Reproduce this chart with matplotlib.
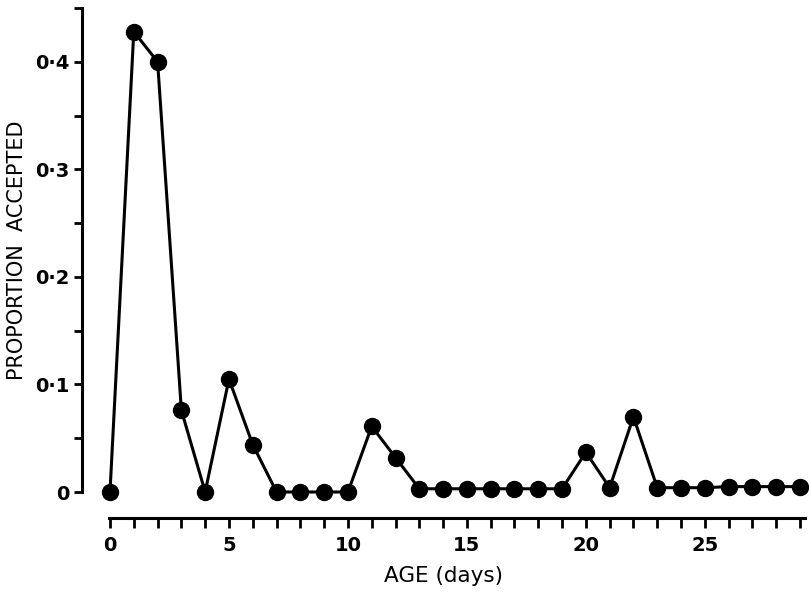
import numpy as np
import matplotlib.pyplot as plt
from matplotlib.ticker import FixedLocator

# values
age_days = list(range(0, 30))
proportion = [0.0, 0.428, 0.40, 0.076, 0.0, 0.105, 0.044, 0.0, 0.0, 0.0,
              0.0, 0.061, 0.032, 0.003, 0.003, 0.003, 0.003, 0.003, 0.003, 0.003,
              0.037, 0.004, 0.070, 0.004, 0.004, 0.004, 0.005, 0.005, 0.005, 0.005]
y_ticks = [0.0, 0.1, 0.2, 0.3, 0.4]
y_minor = [0.05, 0.15, 0.25, 0.35, 0.45]
y_tick_labels = ['0', '0·1', '0·2', '0·3', '0·4']
x_ticks = [0, 5, 10, 15, 20, 25]
x_minor = [d for d in age_days if d % 5 != 0]

W, H = 809, 594
fig = plt.figure(figsize=(W / 100, H / 100), dpi=100)
ax = fig.add_axes([82 / W, 1 - 492 / H, (805 - 82) / W, (492 - 8) / H])

ax.plot(age_days, proportion, color='black', lw=2.2, marker='o', ms=11.5,
        clip_on=False, zorder=3)

px = (800 - 110) / 29.0
ax.set_xlim(-(110 - 82) / px, 29 + 5 / px)
ax.set_ylim(0, 0.45)

for s in ['top', 'right']:
    ax.spines[s].set_visible(False)
ax.spines['left'].set_linewidth(2.2)
ax.spines['bottom'].set_linewidth(2.2)
ax.spines['bottom'].set_position(('outward', 26 * 0.72))
ax.spines['bottom'].set_bounds(-0.05, 29 + 5 / px)

ax.xaxis.set_major_locator(FixedLocator(x_ticks))
ax.xaxis.set_minor_locator(FixedLocator(x_minor))
ax.set_xticklabels([str(t) for t in x_ticks])
ax.yaxis.set_major_locator(FixedLocator(y_ticks))
ax.yaxis.set_minor_locator(FixedLocator(y_minor))
ax.set_yticklabels(y_tick_labels)

ax.tick_params(axis='x', which='both', direction='out', length=7, width=2,
               labelsize=14, pad=6)
ax.tick_params(axis='y', which='both', direction='out', length=6, width=2,
               labelsize=14, pad=3)
for lab in ax.get_xticklabels() + ax.get_yticklabels():
    lab.set_fontweight('bold')

ax.set_xlabel('AGE (days)', fontsize=15.5, labelpad=8)
ax.set_ylabel('PROPORTION  ACCEPTED', fontsize=15, labelpad=6)

fig.savefig('out.png', dpi=100)
